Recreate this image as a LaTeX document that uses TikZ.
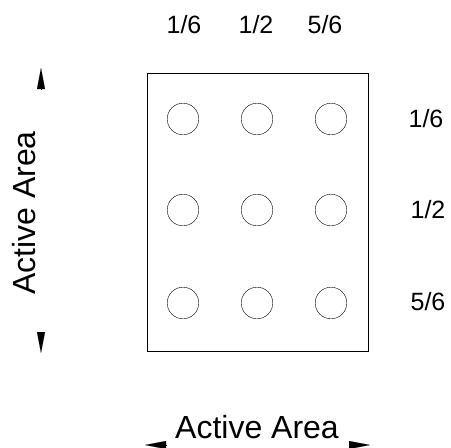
\documentclass[tikz,border=0pt]{standalone}
\usepackage{fontspec}
\setmainfont{Liberation Sans}
\usetikzlibrary{arrows.meta}
\tikzstyle{panel} = [
    rectangle, draw, thin,
    minimum width=221pt,
    minimum height=278pt,
]
\tikzstyle{hole} = [
    circle, draw, thin,
    minimum size=31.6pt,
    inner sep=0pt,
]
\tikzstyle{frac} = [
    anchor=base, inner sep=0pt,
    font=\fontsize{25}{30}\selectfont,
]
\tikzstyle{area} = [
    anchor=base, inner sep=0pt,
    font=\fontsize{32}{38}\selectfont,
]
\tikzstyle{tip} = [-{Triangle[length=21pt,width=8pt]}, line width=0.1pt]
\begin{document}
\begin{tikzpicture}[x=1pt,y=-1pt]
    \useasboundingbox (0,0) rectangle (451,448);
    % panel and holes
    \node (panel) at (257.5,212) [panel] {};
    \foreach \c/\xx in {1/183,2/257,3/331} {
        \foreach \r/\yy in {1/119,2/210,3/303} {
            \node (hole\r\c) at (\xx,\yy) [hole] {};
        }
    }

    % fractions
    \node (col1) at (184,33) [frac] {1/6};
    \node (col2) at (256,33) [frac] {1/2};
    \node (col3) at (325,33) [frac] {5/6};
    \node (row1) at (426,127) [frac] {1/6};
    \node (row2) at (428,218) [frac] {1/2};
    \node (row3) at (428,310) [frac] {5/6};

    % active area
    \node (vlabel) at (35,213) [area,rotate=90] {Active Area};
    \node (hlabel) at (257,438) [area] {Active Area};

    \coordinate (vtop) at (41,68);
    \coordinate (vbot) at (41,353);
    \coordinate (hleft) at (145,445);
    \coordinate (hright) at (370,445);
    \draw [tip] (41,89) -- (vtop);
    \draw [tip] (41,332) -- (vbot);
    \draw [tip] (166,445) -- (hleft);
    \draw [tip] (349,445) -- (hright);
\end{tikzpicture}
\end{document}
